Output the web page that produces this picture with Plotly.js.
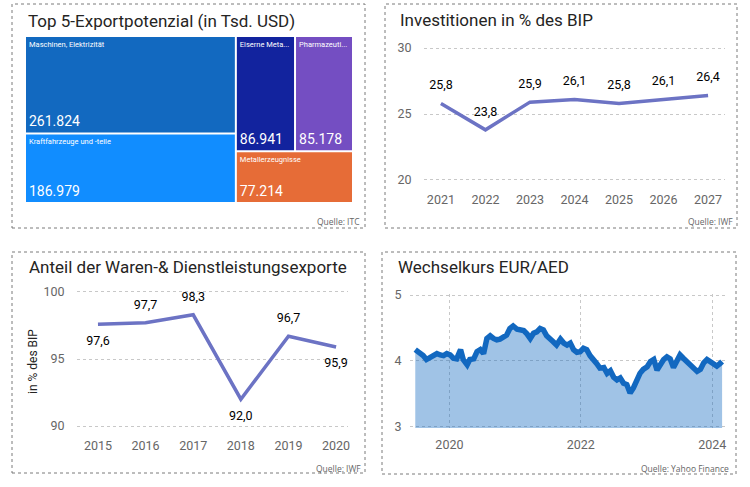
<!DOCTYPE html>
<html>
<head>
<meta charset="utf-8">
<script src="https://cdn.plot.ly/plotly-3.0.1.min.js"></script>
<style>html,body{margin:0;padding:0;background:#fff}#chart{width:750px;height:487px}</style>
</head>
<body>
<div id="chart"></div>
<script>
// ---------- DATA ----------
const exportLabels = ["Maschinen, Elektrizität", "Kraftfahrzeuge und -teile", "Eiserne Meta...", "Pharmazeuti...", "Metallerzeugnisse"];
const exportValues = [261824, 186979, 86941, 85178, 77214];
const exportColors = ["#1269C0", "#118DFF", "#12239E", "#744EC2", "#E66C37"];

const invYears = [2021, 2022, 2023, 2024, 2025, 2026, 2027];
const invValues = [25.8, 23.8, 25.9, 26.1, 25.8, 26.1, 26.4];

const expYears = [2015, 2016, 2017, 2018, 2019, 2020];
const expValues = [97.6, 97.7, 98.3, 92.0, 96.7, 95.9];
const expLabelPos = ["bottom center", "top center", "top center", "bottom center", "top center", "bottom center"];

const fxTime = [2019.48, 2019.55, 2019.60, 2019.65, 2019.71, 2019.76, 2019.81, 2019.86, 2019.91, 2019.96,
  2020.01, 2020.06, 2020.11, 2020.17, 2020.21, 2020.27, 2020.31, 2020.37, 2020.42, 2020.47,
  2020.52, 2020.57, 2020.62, 2020.67, 2020.72, 2020.77, 2020.82, 2020.87, 2020.92, 2020.97,
  2021.03, 2021.08, 2021.13, 2021.18, 2021.23, 2021.28, 2021.33, 2021.38, 2021.43, 2021.48,
  2021.53, 2021.58, 2021.63, 2021.69, 2021.74, 2021.79, 2021.84, 2021.89, 2021.94, 2021.99,
  2022.04, 2022.09, 2022.14, 2022.19, 2022.24, 2022.29, 2022.35, 2022.40, 2022.45, 2022.50,
  2022.55, 2022.60, 2022.65, 2022.70, 2022.75, 2022.80, 2022.85, 2022.90, 2022.95, 2023.01,
  2023.06, 2023.11, 2023.16, 2023.21, 2023.26, 2023.31, 2023.36, 2023.41, 2023.46, 2023.51,
  2023.56, 2023.61, 2023.66, 2023.72, 2023.77, 2023.82, 2023.87, 2023.92, 2023.97, 2024.02,
  2024.07, 2024.12, 2024.15];
const fxRates = [4.17, 4.12, 4.08, 4.02, 4.05, 4.08, 4.11, 4.09, 4.08, 4.11,
  4.09, 4.04, 4.03, 4.17, 4.02, 3.94, 4.02, 4.03, 4.14, 4.17,
  4.11, 4.34, 4.38, 4.34, 4.32, 4.33, 4.36, 4.39, 4.49, 4.53,
  4.48, 4.47, 4.46, 4.41, 4.34, 4.42, 4.44, 4.49, 4.47, 4.38,
  4.32, 4.29, 4.24, 4.33, 4.27, 4.24, 4.27, 4.17, 4.13, 4.14,
  4.19, 4.17, 4.08, 4.03, 3.96, 3.89, 3.90, 3.81, 3.85, 3.75,
  3.71, 3.74, 3.66, 3.64, 3.51, 3.59, 3.71, 3.81, 3.87, 3.91,
  3.99, 4.02, 3.86, 3.96, 4.02, 4.06, 4.03, 3.90, 4.02, 4.09,
  4.04, 3.99, 3.94, 3.89, 3.84, 3.87, 3.97, 4.02, 3.99, 3.96,
  3.92, 3.96, 3.99];
const fxTicks = [2020, 2022, 2024];

const titles = ["Top 5-Exportpotenzial (in Tsd. USD)", "Investitionen in % des BIP", "Anteil der Waren-& Dienstleistungsexporte", "Wechselkurs EUR/AED"];
const sources = ["Quelle: ITC", "Quelle: IWF", "Quelle: IWF", "Quelle: Yahoo Finance"];

// ---------- HELPERS ----------
const W = 750, H = 487;
const px = v => v / W;
const py = v => 1 - v / H;
const FONT = "Roboto, 'DejaVu Sans', sans-serif";
const LINE = "#6C73C4";
const GRID = "#C8C8C8";
const TICK = "#666666";

const tmDomain = {x: [px(26), px(352)], y: [py(202), py(37)]};

const traces = [
  {
    type: "treemap", labels: exportLabels, parents: exportLabels.map(() => ""), values: exportValues,
    domain: tmDomain, sort: true,
    marker: {colors: exportColors, line: {width: 0}, pad: {t: 0, l: 0, r: 0, b: 0}},
    tiling: {packing: "squarify", squarifyratio: 2, pad: 2},
    pathbar: {visible: false},
    textposition: "top left", texttemplate: "%{label}",
    textfont: {family: FONT, size: 7.5, color: "#ffffff"},
    hoverinfo: "label+value"
  },
  {
    type: "treemap", labels: exportLabels, parents: exportLabels.map(() => ""), values: exportValues,
    domain: tmDomain, sort: true,
    marker: {colors: exportLabels.map(() => "rgba(0,0,0,0)"), line: {width: 0}, pad: {t: 0, l: 0, r: 0, b: 0}},
    tiling: {packing: "squarify", squarifyratio: 2, pad: 2},
    pathbar: {visible: false},
    textposition: "bottom left", texttemplate: "%{value:,}",
    textfont: {family: FONT, size: 14, color: "#ffffff"},
    hoverinfo: "skip"
  },
  {
    type: "scatter", x: invYears, y: invValues, xaxis: "x", yaxis: "y",
    mode: "lines+markers+text", line: {color: LINE, width: 3.5},
    marker: {size: 16, color: "rgba(0,0,0,0)"},
    text: invValues.map(v => v.toFixed(1).replace(".", ",")), textposition: "top center",
    textfont: {family: FONT, size: 12.5, color: "#000000"}, cliponaxis: false
  },
  {
    type: "scatter", x: expYears, y: expValues, xaxis: "x2", yaxis: "y2",
    mode: "lines+markers+text", line: {color: LINE, width: 3.5},
    marker: {size: 16, color: "rgba(0,0,0,0)"},
    text: expValues.map(v => v.toFixed(1).replace(".", ",")), textposition: expLabelPos,
    textfont: {family: FONT, size: 12.5, color: "#000000"}, cliponaxis: false
  },
  {
    type: "scatter", x: fxTime, y: fxRates, xaxis: "x3", yaxis: "y3",
    mode: "lines", line: {color: "#1268C0", width: 5.5},
    fill: "tozeroy", fillcolor: "rgba(18,104,192,0.4)"
  }
];

const tickFont = {family: FONT, size: 12.5, color: TICK};
const xBase = {showgrid: false, zeroline: false, showline: false, ticks: "outside", ticklen: 5, tickcolor: "rgba(0,0,0,0)", tickfont: tickFont, fixedrange: true};
const yBase = {showgrid: true, gridcolor: GRID, griddash: "dot", gridwidth: 1, zeroline: false, showline: false, ticks: "outside", ticklen: 9, tickcolor: "rgba(0,0,0,0)", tickfont: tickFont, fixedrange: true};

const shapes = [[12, 4, 365, 228], [385, 4, 737, 228], [12, 252, 365, 473], [382, 252, 736, 474]].map(b => ({
  type: "rect", xref: "paper", yref: "paper", x0: px(b[0]), x1: px(b[2]), y0: py(b[3]), y1: py(b[1]),
  line: {color: "#7A7A7A", width: 1, dash: "3px,3px"}, layer: "below"
}));

const titlePos = [[26, 21], [398, 20], [27, 267], [396, 267]];
const srcPos = [[362, 221], [735, 221], [363, 468], [731, 468]];
const annotations = [];
titles.forEach((t, i) => annotations.push({
  text: t, xref: "paper", yref: "paper", x: px(titlePos[i][0]), y: py(titlePos[i][1]),
  xanchor: "left", yanchor: "middle", showarrow: false,
  font: {family: FONT, size: 17, color: "#252423"}
}));
sources.forEach((t, i) => annotations.push({
  text: t, xref: "paper", yref: "paper", x: px(srcPos[i][0]), y: py(srcPos[i][1]),
  xanchor: "right", yanchor: "middle", showarrow: false,
  font: {family: "'Open Sans', sans-serif", size: 8.5, color: "#666666"}
}));
annotations.push({
  text: "in % des BIP", xref: "paper", yref: "paper", x: px(33), y: py(362),
  xanchor: "center", yanchor: "middle", textangle: -90, showarrow: false,
  font: {family: FONT, size: 12, color: "#252423"}
});

const layout = {
  width: W, height: H, margin: {l: 0, r: 0, t: 0, b: 0},
  paper_bgcolor: "#ffffff", plot_bgcolor: "rgba(0,0,0,0)",
  showlegend: false, separators: ",.", hovermode: false,
  xaxis: Object.assign({}, xBase, {domain: [px(424), px(725)], range: [2020.62, 2027.38], tickvals: invYears, anchor: "y"}),
  yaxis: Object.assign({}, yBase, {domain: [py(182.6), py(45.4)], range: [19.8, 30.2], tickvals: [20, 25, 30], anchor: "x"}),
  xaxis2: Object.assign({}, xBase, {domain: [px(77), px(348)], range: [2014.56, 2020.25], tickvals: expYears, anchor: "y2"}),
  yaxis2: Object.assign({}, yBase, {domain: [py(428.7), py(289.3)], range: [89.8, 100.2], tickvals: [90, 95, 100], anchor: "x2"}),
  xaxis3: Object.assign({}, xBase, {domain: [px(410), px(728)], range: [2019.40, 2024.24], tickvals: fxTicks, anchor: "y3",
    showgrid: true, gridcolor: GRID, griddash: "dot", gridwidth: 1}),
  yaxis3: Object.assign({}, yBase, {domain: [py(428), py(293.7)], range: [2.98, 5.02], tickvals: [3, 4, 5], anchor: "x3", ticklen: 5}),
  shapes: shapes, annotations: annotations
};

Plotly.newPlot("chart", traces, layout, {displayModeBar: false, staticPlot: true});
</script>
</body>
</html>
